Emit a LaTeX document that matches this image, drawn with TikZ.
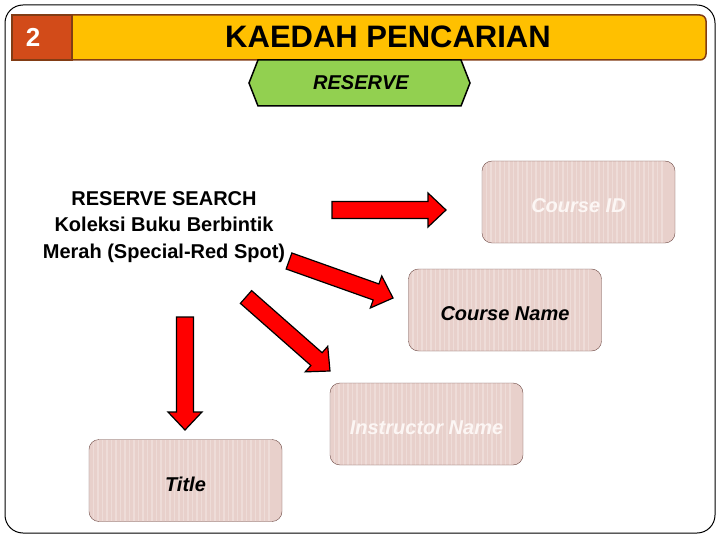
\documentclass[tikz,border=0pt]{standalone}
\usepackage{fontspec}
\setmainfont{Liberation Sans}
\definecolor{hdrred}{RGB}{210,75,25}
\definecolor{hdryellow}{RGB}{255,192,0}
\definecolor{hdredge}{RGB}{130,60,20}
\definecolor{hexgreen}{RGB}{146,208,80}
\definecolor{boxpink}{RGB}{232,208,203}
\definecolor{boxedge}{RGB}{110,75,70}
\definecolor{arrowred}{RGB}{255,0,0}
\definecolor{softwhite}{RGB}{252,246,244}
\usetikzlibrary{calc}

% block arrow from #1 to #2
\newcommand{\blockarrow}[2]{%
  \coordinate (#1h) at ($(#2)!18pt!(#1)$);
  \draw[blockarr] ($(#1)!8.5pt!90:(#2)$) -- ($(#1h)!8.5pt!90:(#2)$)
    -- ($(#1h)!17pt!90:(#2)$) -- (#2) -- ($(#1h)!17pt!-90:(#2)$)
    -- ($(#1h)!8.5pt!-90:(#2)$) -- ($(#1)!8.5pt!-90:(#2)$) -- cycle;}

\begin{document}
\begin{tikzpicture}[x=1pt,y=-1pt,
  infobox/.style={rectangle, rounded corners=10pt, draw=boxedge, fill=boxpink,
               minimum width=193pt, minimum height=82pt, text height=22pt,
               font=\fontsize{20}{22}\selectfont\bfseries\itshape,
               path picture={\foreach \i in {0,...,40}
                 \draw[white!25!boxpink, line width=1.2pt]
                   ([xshift=\i*4.5pt]path picture bounding box.south west) --
                   ([xshift=\i*4.5pt]path picture bounding box.north west);}},
  blockarr/.style={fill=arrowred, draw=black, line width=1.2pt, line join=miter}
]
\useasboundingbox (0,0) rectangle (720,540);
\draw[line width=1pt, rounded corners=18pt] (5,5) rectangle (715,533);

% Header bar
\draw[fill=hdryellow, draw=hdredge, line width=1.5pt, rounded corners=6pt] (66,15) rectangle (706,60);
\draw[fill=hdrred, draw=hdredge, line width=1.5pt] (12,15) rectangle (72,60);
\node[font=\fontsize{26}{28}\selectfont\bfseries, text=white] (num) at (33,37) {2};
\node[font=\fontsize{31}{33}\selectfont\bfseries] (heading) at (388,37) {KAEDAH PENCARIAN};

% Hexagon tab
\draw[fill=hexgreen, line width=1.5pt] (249,83) -- (258,60) -- (461,60) -- (470,83)
  -- (461,106) -- (258,106) -- cycle;
\node[font=\fontsize{20}{22}\selectfont\bfseries\itshape] (reserve) at (361,83) {RESERVE};

% Search text
\node[align=center, font=\fontsize{20}{26.5}\selectfont\bfseries] (rsearch) at (164,227)
  {RESERVE SEARCH\\Koleksi Buku Berbintik\\Merah (Special-Red Spot)};

% Field boxes
\node[infobox, text=softwhite] (cid)   at (578.5,202)   {Course ID};
\node[infobox]                 (cname) at (505,310)     {Course Name};
\node[infobox, text=softwhite] (iname) at (426.5,424)   {Instructor Name};
\node[infobox]                 (title) at (185.5,480.5) {Title};

% Arrows
\coordinate (a1s) at (332,210); \coordinate (a1e) at (446,210);
\coordinate (a2s) at (289,261); \coordinate (a2e) at (393,298);
\coordinate (a3s) at (246,297); \coordinate (a3e) at (330,371);
\coordinate (a4s) at (185,317); \coordinate (a4e) at (185,430);
\blockarrow{a1s}{a1e}
\blockarrow{a2s}{a2e}
\blockarrow{a3s}{a3e}
\blockarrow{a4s}{a4e}
\end{tikzpicture}
\end{document}
